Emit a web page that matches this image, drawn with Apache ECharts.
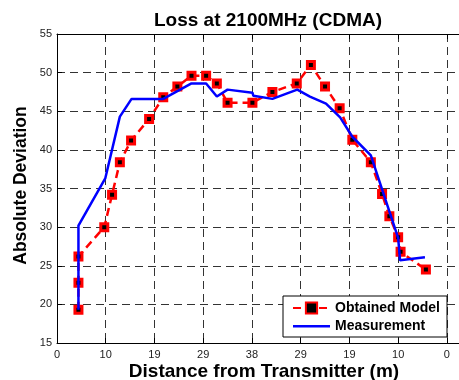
<!DOCTYPE html>
<html>
<head>
<meta charset="utf-8">
<script src="https://cdn.jsdelivr.net/npm/echarts@6/dist/echarts.min.js"></script>
<style>html,body{margin:0;padding:0;background:#fff;}#c{width:459px;height:380px;}</style>
</head>
<body>
<div id="c"></div>
<script>
const xTickLabels = ['0', '10', '19', '29', '38', '29', '19', '10', '0'];
const yTicks = [15, 20, 25, 30, 35, 40, 45, 50, 55];

// Obtained Model (x in tick-position units, y in dB)
const modelX = [0.44, 0.44, 0.44, 0.97, 1.13, 1.29, 1.52, 1.89, 2.18, 2.47, 2.76, 3.06, 3.28, 3.50, 4.01, 4.42, 4.92, 5.21, 5.50, 5.80, 6.06, 6.44, 6.67, 6.82, 7.00, 7.05, 7.57];
const modelY = [19.3, 22.8, 26.2, 30.0, 34.2, 38.4, 41.2, 44.0, 46.8, 48.2, 49.6, 49.6, 48.6, 46.1, 46.1, 47.5, 48.6, 51.0, 48.2, 45.4, 41.3, 38.4, 34.3, 31.4, 28.7, 26.8, 24.5];

// Measurement
const measX = [0.44, 0.44, 0.99, 1.29, 1.53, 2.18, 2.76, 3.06, 3.28, 3.50, 4.01, 4.03, 4.42, 4.93, 5.19, 5.52, 5.81, 6.06, 6.44, 7.00, 7.04, 7.55];
const measY = [19.3, 30.2, 36.3, 44.3, 46.6, 46.6, 48.6, 48.6, 46.9, 47.8, 47.4, 47.0, 46.6, 47.8, 46.9, 46.0, 44.2, 41.7, 39.3, 28.6, 25.7, 26.1];

const zip = (a, b) => a.map((v, i) => [v, b[i]]);

const chart = echarts.init(document.getElementById('c'), null, {renderer: 'canvas'});
const font = 'Liberation Sans, Arial, sans-serif';
const gridColor = '#333';
const lineIcon = 'path://M0,0 L37,0 M0,6 L37,6 L37,8.5 L0,8.5 Z M0,14 L37,14';
chart.setOption({
  animation: false,
  backgroundColor: '#fff',
  textStyle: {fontFamily: font},
  title: {
    text: 'Loss at 2100MHz (CDMA)',
    left: 263, top: 6, textAlign: 'center',
    textStyle: {fontFamily: font, fontWeight: 'bold', fontSize: 19, color: '#000'}
  },
  grid: {left: 57, top: 34, width: 404, height: 309, containLabel: false, outerBoundsMode: 'none'},
  legend: {
    orient: 'vertical',
    left: 283, top: 296,
    padding: [5, 7, 4, 9],
    itemWidth: 37, itemHeight: 14, itemGap: 4,
    borderColor: '#000', borderWidth: 1, backgroundColor: '#fff',
    data: [{name: 'Obtained Model'}, {name: 'Measurement', icon: lineIcon}],
    textStyle: {fontFamily: font, fontWeight: 'bold', fontSize: 14, color: '#000'}
  },
  xAxis: [{
    type: 'value', min: 0, max: 8.29, interval: 1,
    name: 'Distance from Transmitter (m)', nameLocation: 'middle', nameGap: 19,
    nameMoveOverlap: false,
    nameTextStyle: {fontFamily: font, fontWeight: 'bold', fontSize: 19, color: '#000', padding: [0, 0, 0, 10]},
    axisLine: {show: true, onZero: false, lineStyle: {color: '#000', width: 1}},
    axisTick: {show: true, inside: true, length: 5, lineStyle: {color: '#000'}},
    axisLabel: {
      show: true, margin: 6, fontSize: 11, color: '#222', fontFamily: font,
      formatter: v => (Number.isInteger(v) && v < xTickLabels.length) ? xTickLabels[v] : '',
      showMaxLabel: false
    },
    splitLine: {show: true, lineStyle: {color: gridColor, type: [8, 5], width: 1}}
  }, {
    type: 'value', position: 'top', min: 0, max: 8.29, interval: 1,
    axisLine: {show: true, onZero: false, lineStyle: {color: '#000', width: 1}},
    axisTick: {show: true, inside: true, length: 5, lineStyle: {color: '#000'}},
    axisLabel: {show: false},
    splitLine: {show: false}
  }],
  yAxis: [{
    type: 'value', min: yTicks[0], max: yTicks[yTicks.length - 1], interval: 5,
    name: 'Absolute Deviation', nameLocation: 'middle', nameGap: 27,
    nameMoveOverlap: false,
    nameTextStyle: {fontFamily: font, fontWeight: 'bold', fontSize: 17.5, color: '#000', padding: [0, 0, 0, 6]},
    axisLine: {show: true, onZero: false, lineStyle: {color: '#000', width: 1}},
    axisTick: {show: true, inside: true, length: 5, lineStyle: {color: '#000'}},
    axisLabel: {margin: 5, fontSize: 11, color: '#222', fontFamily: font},
    splitLine: {show: true, lineStyle: {color: gridColor, type: [8, 5], width: 1}}
  }],
  series: [{
    name: 'Obtained Model',
    type: 'line',
    data: zip(modelX, modelY),
    symbol: 'rect', symbolSize: 7,
    itemStyle: {color: '#000', borderColor: '#ff0000', borderWidth: 3},
    lineStyle: {color: '#ff0000', width: 2.5, type: [8, 5]},
    z: 2
  }, {
    name: 'Measurement',
    type: 'line',
    data: zip(measX, measY),
    showSymbol: false, symbol: 'none',
    itemStyle: {color: '#0000ff'},
    lineStyle: {color: '#0000ff', width: 2.5},
    z: 3
  }]
});
</script>
</body>
</html>
